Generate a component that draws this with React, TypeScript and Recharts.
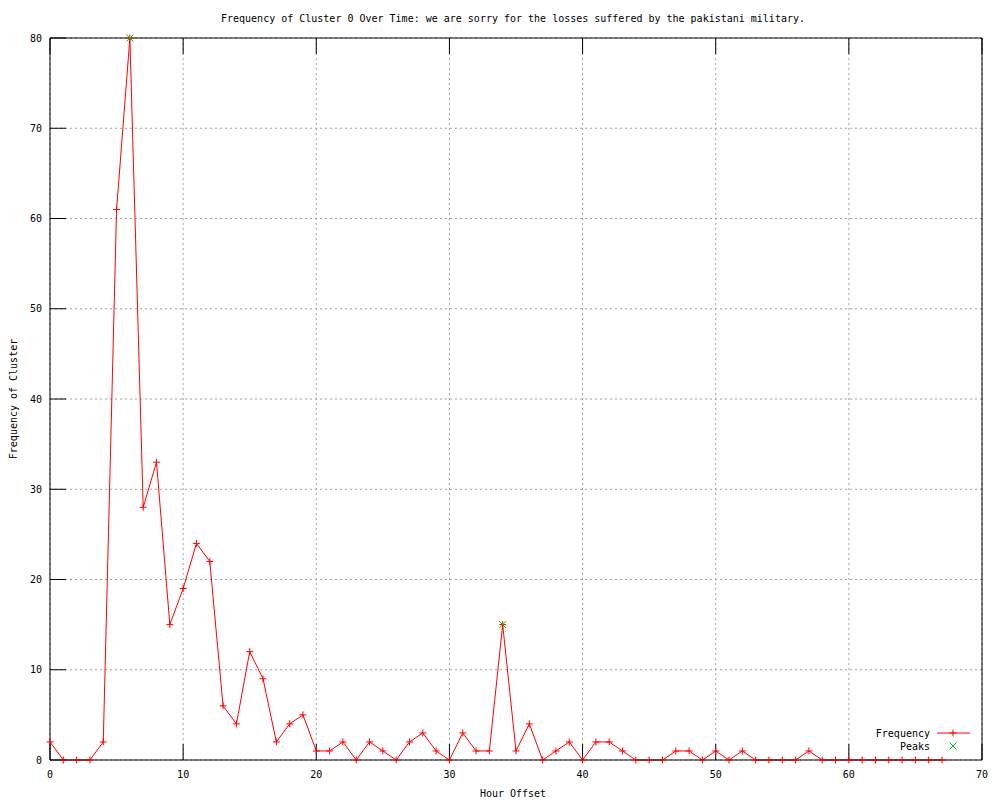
import React from 'react';
import { LineChart, Line, XAxis, YAxis, CartesianGrid, Legend } from 'recharts';

const hours: number[] = [
  0, 1, 2, 3, 4, 5, 6, 7, 8, 9, 10, 11, 12, 13, 14, 15, 16, 17, 18, 19,
  20, 21, 22, 23, 24, 25, 26, 27, 28, 29, 30, 31, 32, 33, 34, 35, 36, 37, 38, 39,
  40, 41, 42, 43, 44, 45, 46, 47, 48, 49, 50, 51, 52, 53, 54, 55, 56, 57, 58, 59,
  60, 61, 62, 63, 64, 65, 66, 67,
];

const frequency: number[] = [
  2, 0, 0, 0, 2, 61, 80, 28, 33, 15, 19, 24, 22, 6, 4, 12, 9, 2, 4, 5,
  1, 1, 2, 0, 2, 1, 0, 2, 3, 1, 0, 3, 1, 1, 15, 1, 4, 0, 1, 2,
  0, 2, 2, 1, 0, 0, 0, 1, 1, 0, 1, 0, 1, 0, 0, 0, 0, 1, 0, 0,
  0, 0, 0, 0, 0, 0, 0, 0,
];

const peakHours: number[] = [6, 34];

const xTicks: number[] = [0, 10, 20, 30, 40, 50, 60, 70];
const yTicks: number[] = [0, 10, 20, 30, 40, 50, 60, 70, 80];

const title = 'Frequency of Cluster 0 Over Time: we are sorry for the losses suffered by the pakistani military.';
const xLabel = 'Hour Offset';
const yLabel = 'Frequency of Cluster';
const seriesNames = ['Frequency', 'Peaks'];

const data = hours.map((h, i) => ({
  hour: h,
  freq: frequency[i],
  peak: peakHours.includes(h) ? frequency[i] : null,
}));

const FONT = 'DejaVu Sans Mono';
const RED = '#ff0000';
const GREEN = '#00c000';

const PlusDot = (props: any) => {
  const { cx, cy, index } = props;
  if (cx == null || cy == null) return <g key={`p${index}`} />;
  return (
    <g key={`p${index}`}>
      <line x1={cx - 3.5} x2={cx + 3.5} y1={cy} y2={cy} stroke={RED} strokeWidth={1} />
      <line x1={cx} x2={cx} y1={cy - 3.5} y2={cy + 3.5} stroke={RED} strokeWidth={1} />
    </g>
  );
};

const CrossDot = (props: any) => {
  const { cx, cy, index, value } = props;
  if (cx == null || cy == null || value == null) return <g key={`c${index}`} />;
  return (
    <g key={`c${index}`}>
      <line x1={cx - 3.5} x2={cx + 3.5} y1={cy - 3.5} y2={cy + 3.5} stroke={GREEN} strokeWidth={1} />
      <line x1={cx - 3.5} x2={cx + 3.5} y1={cy + 3.5} y2={cy - 3.5} stroke={GREEN} strokeWidth={1} />
    </g>
  );
};

const LegendContent = () => (
  <svg width={140} height={32} style={{ display: 'block' }}>
    <text x={80} y={14.5} textAnchor="end" fontFamily={FONT} fontSize={10} fill="#000">
      {seriesNames[0]}
    </text>
    <line x1={87} x2={120} y1={11} y2={11} stroke={RED} strokeWidth={1} />
    <line x1={99.5} x2={106.5} y1={11} y2={11} stroke={RED} strokeWidth={1} />
    <line x1={103} x2={103} y1={7.5} y2={14.5} stroke={RED} strokeWidth={1} />
    <text x={80} y={27.5} textAnchor="end" fontFamily={FONT} fontSize={10} fill="#000">
      {seriesNames[1]}
    </text>
    <line x1={99.5} x2={106.5} y1={20.5} y2={27.5} stroke={GREEN} strokeWidth={1} />
    <line x1={99.5} x2={106.5} y1={27.5} y2={20.5} stroke={GREEN} strokeWidth={1} />
  </svg>
);

const emptyTick = () => <g />;

export default function App() {
  const tickStyle = { fontFamily: FONT, fontSize: 10, fill: '#000' };
  return (
    <div style={{ position: 'absolute', left: 0, top: 0, width: 1000, height: 800, background: '#fff' }}>
      <LineChart width={1000} height={800} data={data} margin={{ top: 8, right: 0, bottom: 0, left: 0 }}>
        <CartesianGrid stroke="#a0a0a0" strokeDasharray="2 3" xAxisId="bottom" yAxisId="left" />
        <XAxis
          xAxisId="bottom"
          dataKey="hour"
          type="number"
          domain={[0, 70]}
          ticks={xTicks}
          height={40}
          tickSize={-16}
          tickMargin={27}
          tick={tickStyle}
          axisLine={{ stroke: '#000' }}
          tickLine={{ stroke: '#000' }}
          interval={0}
        />
        <XAxis
          xAxisId="top"
          orientation="top"
          dataKey="hour"
          type="number"
          domain={[0, 70]}
          ticks={xTicks}
          height={30}
          tickSize={-16}
          tick={emptyTick}
          axisLine={{ stroke: '#000' }}
          tickLine={{ stroke: '#000' }}
          interval={0}
        />
        <YAxis
          yAxisId="left"
          type="number"
          domain={[0, 80]}
          ticks={yTicks}
          width={50}
          tickSize={-16}
          tickMargin={24}
          tick={tickStyle}
          axisLine={{ stroke: '#000' }}
          tickLine={{ stroke: '#000' }}
          interval={0}
        />
        <YAxis
          yAxisId="right"
          orientation="right"
          type="number"
          domain={[0, 80]}
          ticks={yTicks}
          width={18}
          tickSize={-16}
          tick={emptyTick}
          axisLine={{ stroke: '#000' }}
          tickLine={{ stroke: '#000' }}
          interval={0}
        />
        <Line
          xAxisId="bottom"
          yAxisId="left"
          dataKey="freq"
          name={seriesNames[0]}
          type="linear"
          stroke={RED}
          strokeWidth={1}
          dot={PlusDot}
          activeDot={false}
          isAnimationActive={false}
        />
        <Line
          xAxisId="bottom"
          yAxisId="left"
          dataKey="peak"
          name={seriesNames[1]}
          type="linear"
          stroke="none"
          dot={CrossDot}
          activeDot={false}
          isAnimationActive={false}
        />
        <Legend
          layout="vertical"
          align="center"
          verticalAlign="middle"
          content={LegendContent}
          wrapperStyle={{ left: 850, top: 722, width: 140, height: 32 }}
        />
      </LineChart>
      <svg
        width={1000}
        height={800}
        style={{ position: 'absolute', left: 0, top: 0, pointerEvents: 'none' }}
      >
        <text x={513} y={22} textAnchor="middle" fontFamily={FONT} fontSize={10} fill="#000">
          {title}
        </text>
        <text x={513} y={797} textAnchor="middle" fontFamily={FONT} fontSize={10} fill="#000">
          {xLabel}
        </text>
        <text
          x={17}
          y={399}
          textAnchor="middle"
          fontFamily={FONT}
          fontSize={10}
          fill="#000"
          transform="rotate(-90 17 399)"
        >
          {yLabel}
        </text>
      </svg>
    </div>
  );
}
